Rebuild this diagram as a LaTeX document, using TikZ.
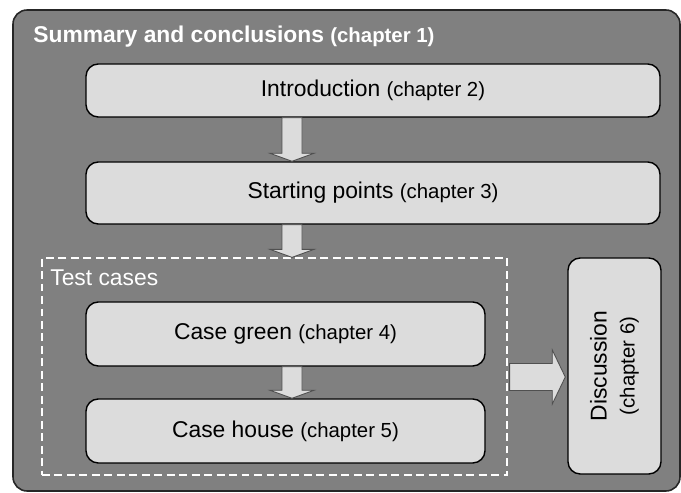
\documentclass[tikz,border=0pt]{standalone}
\usepackage{fontspec}
\setmainfont{Liberation Sans}
\usetikzlibrary{calc,fit}

\definecolor{panelgray}{HTML}{808080}
\definecolor{boxgray}{HTML}{DCDCDC}
\definecolor{edgegray}{HTML}{505050}

\newcommand{\chap}[1]{{\fontsize{11.6}{14}\selectfont #1}}

% block arrow straight down from one node to the next, on the flow line
\newcommand{\downblock}[2]{%
  \draw[blockarrow] ($(#1.south -| flow)+(-10,0)$) -- ($(#2.north -| flow)+(-10,-8)$)
    -- ($(#2.north -| flow)+(-22,-8)$) -- (#2.north -| flow)
    -- ($(#2.north -| flow)+(22,-8)$) -- ($(#2.north -| flow)+(10,-8)$)
    -- ($(#1.south -| flow)+(10,0)$) -- cycle;}

\tikzset{
  panel/.style = {draw=black!85, fill=panelgray, line width=0.9pt, rounded corners=8pt, inner sep=0pt},
  chapbox/.style = {draw=black, fill=boxgray, line width=0.8pt, rounded corners=7pt, inner sep=0pt},
  chaptext/.style = {inner sep=0pt, align=center, font=\fontsize{13}{16}\selectfont},
  groupbox/.style = {draw=white, line width=0.7pt, dash pattern=on 4.5pt off 2.6pt, inner sep=0pt},
  blockarrow/.style = {draw=edgegray, fill=boxgray, line width=0.5pt},
  whitetext/.style = {text=white, inner sep=0pt, font=\fontsize{13}{16}\selectfont}
}

\begin{document}
\begin{tikzpicture}[x=0.02cm, y=-0.02cm]
\useasboundingbox (0,0) rectangle (681,493);

\node[panel, fit={(13,10) (680,491)}] (summary) {};
\node[whitetext, anchor=base west, font=\fontsize{13}{16}\selectfont\bfseries] (title) at (33,43)
     {Summary and conclusions \chap{(chapter 1)}};

\coordinate (flow) at (292,0);
\coordinate (side) at (0,377);

\node[chapbox, fit={(86,64) (660,117)}] (intro) {};
\node[chaptext] (introtext) at (intro.center) {Introduction \chap{(chapter 2)}};
\node[chapbox, fit={(86,162) (660,224)}] (start) {};
\node[chaptext] (starttext) at (start.center) {Starting points \chap{(chapter 3)}};

\node[groupbox, fit={(42,258) (507,475)}] (tests) {};
\node[whitetext, anchor=base west] (testlabel) at (50,286) {Test cases};

\node[chapbox, fit={(86,302) (485,366)}] (green) {};
\node[chaptext] (greentext) at (green.center) {Case green \chap{(chapter 4)}};
\node[chapbox, fit={(86,399) (485,463)}] (house) {};
\node[chaptext] (housetext) at (house.center) {Case house \chap{(chapter 5)}};

\node[chapbox, fit={(568,258) (661,474)}] (disc) {};
\node[chaptext, rotate=90] (disctext) at (disc.center) {Discussion\\\chap{(chapter 6)}};

\downblock{intro}{start}
\downblock{start}{tests}
\downblock{green}{house}

\draw[blockarrow] ($(tests.east |- side)+(2,-13.5)$) -- ($(disc.west |- side)+(-15,-13.5)$)
  -- ($(disc.west |- side)+(-15,-27)$) -- ($(disc.west |- side)+(-2,0)$)
  -- ($(disc.west |- side)+(-15,27)$) -- ($(disc.west |- side)+(-15,13.5)$)
  -- ($(tests.east |- side)+(2,13.5)$) -- cycle;
\end{tikzpicture}
\end{document}
